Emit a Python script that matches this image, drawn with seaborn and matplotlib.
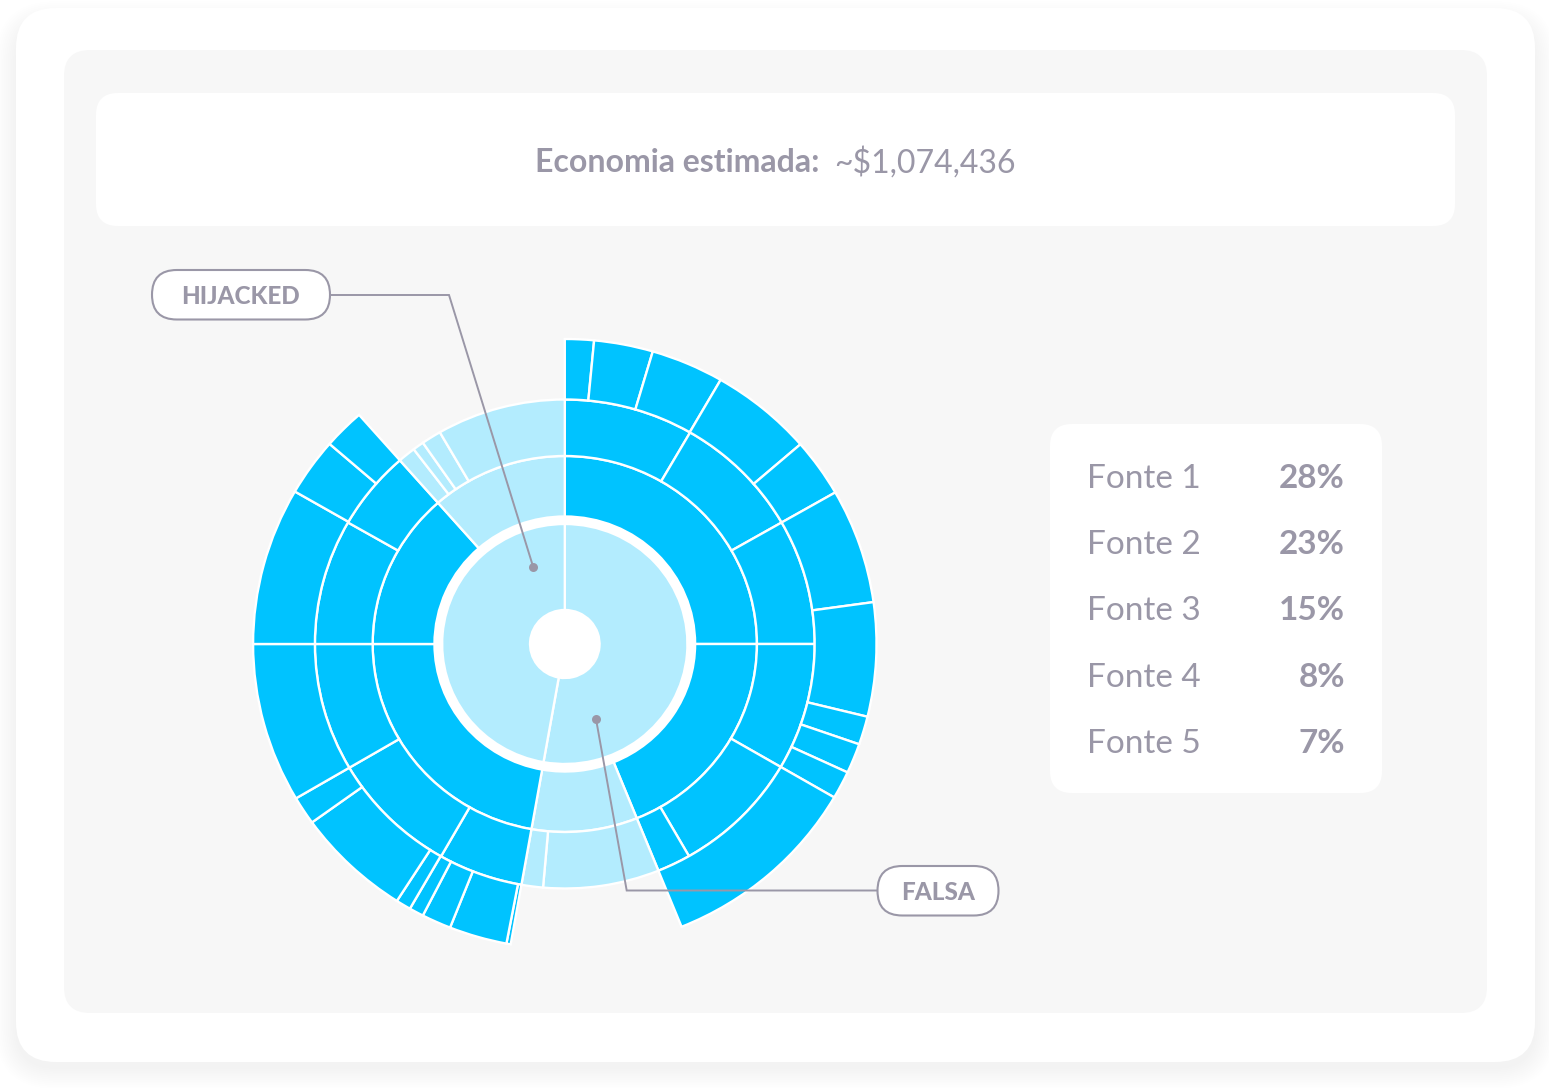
import matplotlib
matplotlib.use("Agg")
import matplotlib.pyplot as plt
from matplotlib.patches import FancyBboxPatch, Circle
import seaborn as sns

sns.set_theme(style="white")
plt.rcParams["font.family"] = ["Lato", "DejaVu Sans"]

# ---------------- data ----------------
title_label = "Economia estimada:"
title_value = "~$1,074,436"
legend_sources = ["Fonte 1", "Fonte 2", "Fonte 3", "Fonte 4", "Fonte 5"]
legend_shares = [28, 23, 15, 8, 7]
callout_labels = ["HIJACKED", "FALSA"]

# angular sizes of ring segments (degrees, clockwise from 12 o'clock)
ring1_sizes = [190, 170]
ring1_kinds = ["light", "light"]
ring2_sizes = [90, 68, 32, 80, 48.7, 41.3]
ring2_kinds = ["bright", "bright", "light", "bright", "bright", "light"]
ring3_sizes = [30.1, 30.1, 29.8, 30.2, 30.0, 7.8, 27, 5, 19.7, 29.9, 30.4,
               29.8, 18.9, 4.1, 2.6, 4.6, 30]
ring3_kinds = ["bright"] * 6 + ["light"] * 2 + ["bright"] * 5 + ["light"] * 4
ring4_sizes = [5.4, 11, 13.6, 19.1, 11.1, 21.9, 21.7, 5.4, 5.7, 5.3, 37.8, 32,
               0.8, 10.8, 5.5, 2.7, 2.8, 21.6, 5.4, 30.4, 30, 11, 7.7, 41.3]
ring4_kinds = ["bright"] * 11 + ["empty"] + ["bright"] * 11 + ["empty"]

# ---------------- style ----------------
W, H = 1549, 1088
palette = {"bright": "#00C3FF", "light": "#B3ECFE", "empty": "none"}
txt_col = "#9A97A7"
line_col = "#9A97A7"
panel_col = "#F7F7F7"
ring_radii = [(34, 120), (127.5, 188), (188, 244.5), (244.5, 305)]
cx, cy = 564.8, 644.0          # pie centre in pixels
xstretch = 1.022               # horizontal stretch of the reference
half = 320

fig = plt.figure(figsize=(W / 100, H / 100), dpi=100)
fig.patch.set_facecolor("white")

# background axes in pixel coordinates
bg = fig.add_axes([0, 0, 1, 1])
bg.set_xlim(0, W)
bg.set_ylim(H, 0)
bg.axis("off")


def rbox(ax, x0, y0, x1, y1, r, fc, ec="none", lw=0, z=1, alpha=1.0):
    p = FancyBboxPatch((x0, y0), x1 - x0, y1 - y0,
                       boxstyle=f"round,pad=0,rounding_size={r}",
                       fc=fc, ec=ec, lw=lw, zorder=z, alpha=alpha)
    ax.add_patch(p)
    return p


# card shadow (soft, mostly below)
for i in range(12):
    g = 1 + i * 1.8
    rbox(bg, 16 - g, 8 - g + 14, 1535 + g, 1062 + g + 6, 40 + g, "#7A7A98",
         z=0, alpha=0.005)
rbox(bg, 16, 8, 1535, 1062, 40, "white", z=1)
rbox(bg, 64, 50, 1487, 1013, 26, panel_col, z=2)
rbox(bg, 96, 93, 1455, 226, 22, "white", z=3)
rbox(bg, 1050, 424, 1382, 793, 22, "white", z=3)

# ---------------- sunburst ----------------
axp = fig.add_axes([(cx - half * xstretch) / W, (H - (cy + half)) / H,
                    2 * half * xstretch / W, 2 * half / H])
axp.add_patch(Circle((0, 0), ring_radii[1][0] + 1, fc="white", ec="none", zorder=0))
rings = [(ring1_sizes, ring1_kinds), (ring2_sizes, ring2_kinds),
         (ring3_sizes, ring3_kinds), (ring4_sizes, ring4_kinds)]
for (sizes, kinds), (r0, r1) in zip(rings, ring_radii):
    wedges, _ = axp.pie(sizes, radius=r1, startangle=90, counterclock=False,
                        colors=[palette[k] for k in kinds],
                        wedgeprops=dict(width=r1 - r0, edgecolor="white",
                                        linewidth=1.7))
    for w, k in zip(wedges, kinds):
        if k == "empty":
            w.set_visible(False)
axp.add_patch(Circle((0, 0), ring_radii[0][0], fc="white", ec="none", zorder=5))
axp.set_aspect("auto")
axp.set_xlim(-half, half)
axp.set_ylim(-half, half)
axp.set_facecolor("none")
axp.axis("off")

# ---------------- overlay ----------------
ov = fig.add_axes([0, 0, 1, 1])
ov.set_xlim(0, W)
ov.set_ylim(H, 0)
ov.set_facecolor("none")
ov.axis("off")

# callouts
ov.plot([331, 449, 533.3], [295, 295, 567.3], color=line_col, lw=1.4,
        zorder=5, solid_joinstyle="miter")
ov.plot([877, 626.7, 596], [890.5, 890.5, 719], color=line_col, lw=1.4,
        zorder=5, solid_joinstyle="miter")
ov.scatter([533.3, 596], [567.3, 719], s=42, color=line_col, zorder=6,
           linewidths=0)
rbox(ov, 152, 270, 330, 319.5, 24.75, "white", ec=line_col, lw=1.5, z=7)
rbox(ov, 877.5, 866, 998.5, 915.5, 24.75, "white", ec=line_col, lw=1.5, z=7)
ov.text(241, 295, callout_labels[0], ha="center", va="center_baseline",
        fontsize=17.5, fontweight="black", color=txt_col, zorder=8)
ov.text(938, 891, callout_labels[1], ha="center", va="center_baseline",
        fontsize=17.5, fontweight="black", color=txt_col, zorder=8)

# title line
fig.canvas.draw()
rend = fig.canvas.get_renderer()
t1 = ov.text(0, 172.5, title_label, ha="left", va="baseline", fontsize=23,
             fontweight="bold", color=txt_col, zorder=8)
t2 = ov.text(0, 172.5, title_value, ha="left", va="baseline", fontsize=23,
             fontweight="normal", color=txt_col, zorder=8)
w1 = t1.get_window_extent(rend).width
w2 = t2.get_window_extent(rend).width
gap = 14
x0 = 775.5 - (w1 + gap + w2) / 2
t1.set_x(x0)
t2.set_x(x0 + w1 + gap)

# legend
baselines = [488.3, 554.3, 620.3, 686.7, 753.3]
for name, share, yb in zip(legend_sources, legend_shares, baselines):
    ov.text(1087, yb, name, ha="left", va="baseline", fontsize=24,
            fontweight="normal", color=txt_col, zorder=8)
    ov.text(1345, yb, f"{share}%", ha="right", va="baseline", fontsize=24,
            fontweight="bold", color=txt_col, zorder=8)

fig.savefig("out.png", dpi=100, facecolor="white")
